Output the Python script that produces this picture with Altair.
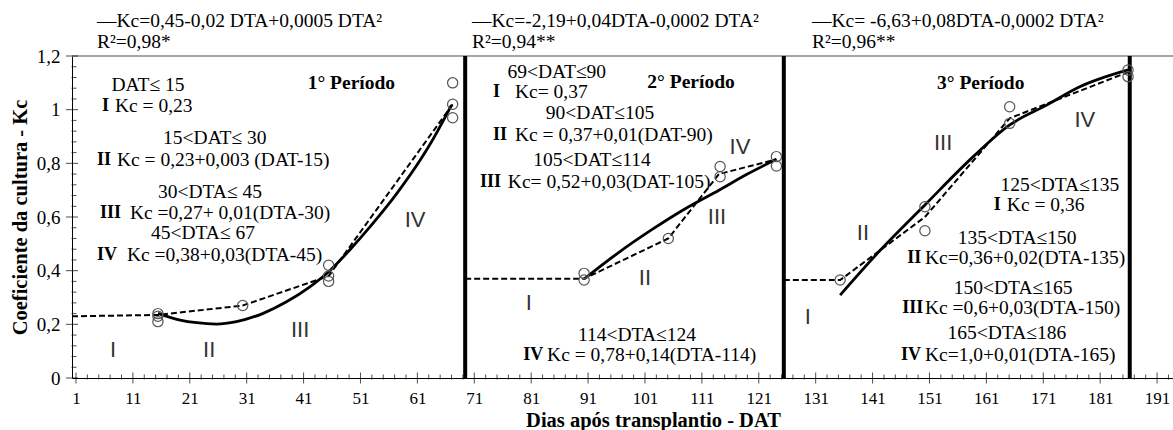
import altair as alt
import pandas as pd

# ---------------- data ----------------
# observed Kc points (open circles)
obs_day = [15.4, 15.4, 15.4, 30.3, 45.4, 45.4, 45.4, 67.2, 67.2, 67.2,
           90.3, 90.3, 105.1, 114.2, 114.2, 124.1, 124.1,
           135.3, 150.2, 150.2, 165.1, 165.1, 185.9, 185.9]
obs_kc = [0.24, 0.23, 0.21, 0.27, 0.42, 0.38, 0.36, 1.10, 1.02, 0.97,
          0.39, 0.365, 0.52, 0.788, 0.75, 0.825, 0.79,
          0.365, 0.638, 0.549, 1.011, 0.949, 1.148, 1.123]

# piecewise-linear (dashed) Kc per period
dash1_day = [0.3, 15.4, 30.3, 45.4, 67.2]
dash1_kc = [0.23, 0.235, 0.27, 0.38, 1.02]
dash2_day = [69.4, 90.3, 105.1, 114.0, 124.1]
dash2_kc = [0.37, 0.37, 0.52, 0.76, 0.815]
dash3_day = [125.4, 135.3, 150.2, 165.1, 185.9]
dash3_kc = [0.365, 0.365, 0.60, 0.968, 1.14]

# fitted quadratic (solid) curves per period
fit1_day = [15.4, 19.3, 22.2, 25.7, 29.2, 33.9, 38.0, 42.1, 45.6, 49.1, 52.7, 57.4, 61.5, 63.2, 67.0]
fit1_kc = [0.241, 0.216, 0.206, 0.201, 0.21, 0.241, 0.284, 0.34, 0.40, 0.477, 0.564, 0.688, 0.812, 0.87, 1.017]
fit2_day = [90.3, 96.0, 102.0, 108.0, 114.0, 119.0, 124.1]
fit2_kc = [0.369, 0.462, 0.55, 0.63, 0.70, 0.76, 0.815]
fit3_day = [135.3, 142.3, 150.2, 158.7, 165.1, 171.6, 177.5, 185.9]
fit3_kc = [0.309, 0.475, 0.645, 0.825, 0.943, 1.017, 1.086, 1.148]

# period boundaries (thick vertical lines)
bound_day = [69.4, 125.4, 186.2]

# axis tick labels
x_labels = list(range(1, 192, 10))
y_labels = [0, 0.2, 0.4, 0.6, 0.8, 1.0, 1.2]

# regular annotation text (serif)
note_text = ["DAT\u2264 15", "Kc = 0,23", "15<DAT\u2264 30", "Kc =  0,23+0,003 (DAT-15)",
             "30<DTA\u2264 45", "Kc =0,27+ 0,01(DTA-30)", "45<DTA\u2264 67", "Kc =0,38+0,03(DTA-45)",
             "69<DAT\u226490", "Kc= 0,37", "90<DAT\u2264105", "Kc = 0,37+0,01(DAT-90)",
             "105<DAT\u2264114", "Kc= 0,52+0,03(DAT-105)", "114<DTA\u2264124", "Kc = 0,78+0,14(DTA-114)",
             "125<DTA\u2264135", "Kc = 0,36", "135<DTA\u2264150", "Kc=0,36+0,02(DTA-135)",
             "150<DTA\u2264165", "Kc =0,6+0,03(DTA-150)", "165<DTA\u2264186", "Kc=1,0+0,01(DTA-165)"]
note_day = [13.65, 7.85, 25.4, 8.2, 24.55, 10.49, 23.32, 9.96,
            85.5, 78.15, 93.1, 78.15, 91.7, 76.9, 99.6, 83.8,
            173.9, 164.6, 166.4, 150.2, 165.7, 150.2, 164.6, 150.2]
note_kc = [1.092, 1.014, 0.894, 0.8125, 0.693, 0.615, 0.540, 0.458,
           1.1405, 1.066, 0.988, 0.906, 0.8125, 0.7305, 0.160, 0.0857,
           0.719, 0.645, 0.522, 0.447, 0.335, 0.261, 0.168, 0.0857]
note_align = ["center", "left", "center", "left", "center", "left", "center", "left",
              "center", "left", "center", "left", "center", "left", "center", "left",
              "center", "left", "center", "left", "center", "left", "center", "left"]

# bold stage labels inside the equations
bold_text = ["I", "II", "III", "IV", "I", "II", "III", "IV", "I", "II", "III", "IV"]
bold_day = [5.57, 4.69, 5.22, 4.69, 74.3, 74.3, 72.0, 79.6, 162.3, 147.1, 146.2, 146.0]
bold_kc = [1.014, 0.8125, 0.615, 0.458, 1.066, 0.906, 0.7305, 0.0857, 0.645, 0.447, 0.261, 0.0857]

# period titles
period_text = ["1\u00b0 Per\u00edodo", "2\u00b0 Per\u00edodo", "3\u00b0 Per\u00edodo"]
period_day = [49.4, 109.1, 160.0]
period_kc = [1.0995, 1.103, 1.0995]

# regression equations above the plot
eq_text = ["\u2014Kc=0,45-0,02 DTA+0,0005 DTA\u00b2", "R\u00b2=0,98*",
           "\u2014Kc=-2,19+0,04DTA-0,0002 DTA\u00b2", "R\u00b2=0,94**",
           "\u2014Kc= -6,63+0,08DTA-0,0002 DTA\u00b2", "R\u00b2=0,96**"]
eq_day = [4.69, 4.69, 70.6, 70.6, 130.35, 130.35]
eq_kc = [1.3306, 1.2525, 1.3306, 1.2525, 1.3306, 1.2525]

# stage roman numerals (sans)
stage_text = ["I", "II", "III", "IV", "I", "II", "III", "IV", "I", "II", "III", "IV"]
stage_day = [7.5, 24.4, 40.4, 60.6, 80.6, 101.0, 113.65, 117.7, 129.6, 139.3, 153.4, 178.3]
stage_kc = [0.104, 0.104, 0.179, 0.589, 0.28, 0.373, 0.60, 0.861, 0.227, 0.540, 0.876, 0.962]

# ---------------- tables ----------------
obs = pd.DataFrame({"day": obs_day, "kc": obs_kc})
dash = pd.DataFrame({
    "day": dash1_day + dash2_day + dash3_day,
    "kc": dash1_kc + dash2_kc + dash3_kc,
    "period": [1] * len(dash1_day) + [2] * len(dash2_day) + [3] * len(dash3_day),
})
fit = pd.DataFrame({
    "day": fit1_day + fit2_day + fit3_day,
    "kc": fit1_kc + fit2_kc + fit3_kc,
    "period": [1] * len(fit1_day) + [2] * len(fit2_day) + [3] * len(fit3_day),
})
bounds = pd.DataFrame({"day": bound_day})
notes = pd.DataFrame({"day": note_day, "kc": note_kc, "t": note_text, "al": note_align})
bolds = pd.DataFrame({"day": bold_day, "kc": bold_kc, "t": bold_text})
periods = pd.DataFrame({"day": period_day, "kc": period_kc, "t": period_text})
eqs = pd.DataFrame({"day": eq_day, "kc": eq_kc, "t": eq_text})
stages = pd.DataFrame({"day": stage_day, "kc": stage_kc, "t": stage_text})
xmaj = pd.DataFrame({"day": x_labels, "kc": [0] * len(x_labels)})
xmin_days = [d for d in range(3, 194, 2) if (d - 1) % 10 != 0]
xmin = pd.DataFrame({"day": xmin_days, "kc": [0] * len(xmin_days)})
ymaj = pd.DataFrame({"kc": y_labels, "day": [0.3] * len(y_labels)})
ymin_vals = [round(i * 0.04, 2) for i in range(31) if i % 5 != 0]
ymin = pd.DataFrame({"kc": ymin_vals, "day": [0.3] * len(ymin_vals)})
top = pd.DataFrame({"kc": [1.2]})

SERIF = "Liberation Serif"
xs = alt.Scale(domain=[0.3, 193.8], nice=False, zero=False)
ys = alt.Scale(domain=[0, 1.2], nice=False, zero=False)

x_axis = alt.Axis(values=x_labels, format="d", ticks=False, grid=False, domain=True,
                  domainColor="black", domainWidth=1, labelFont=SERIF, labelFontSize=17,
                  labelColor="black", labelPadding=20, labelBaseline="middle",
                  labelFlush=False, labelOverlap=False,
                  title="Dias após transplantio - DAT", titleFont=SERIF, titleFontSize=20.5,
                  titleFontWeight="bold", titleColor="black", titleX=581, titleY=42,
                  titleBaseline="middle", titleAlign="center")
y_axis = alt.Axis(values=y_labels, labelExpr="replace(format(datum.value, '.1~f'), '.', ',')",
                  ticks=False, grid=False, domain=True, domainColor="black", domainWidth=1,
                  labelFont=SERIF, labelFontSize=19, labelColor="black", labelPadding=12,
                  title="Coeficiente da cultura - Kc", titleFont=SERIF, titleFontSize=20.5,
                  titleFontWeight="bold", titleColor="black", titleAngle=270,
                  titleX=-52, titleY=161, titleAlign="center", titleBaseline="middle")


def X():
    return alt.X("day:Q", scale=xs, axis=x_axis)


def Y():
    return alt.Y("kc:Q", scale=ys, axis=y_axis)


ANN = 19.5

dash_layer = alt.Chart(dash).mark_line(color="black", strokeWidth=2, strokeDash=[6, 3]).encode(
    x=X(), y=Y(), detail="period:N", order="day:Q")

top_border = alt.Chart(top).mark_rule(color="#888888", strokeWidth=1.5).encode(y=Y())

bound_layer = alt.Chart(bounds).mark_rule(color="black", strokeWidth=4).encode(
    x=X(), y=alt.datum(0), y2=alt.datum(1.2))

fit_layer = alt.Chart(fit).mark_line(color="black", strokeWidth=2.8, interpolate="monotone").encode(
    x=X(), y=Y(), detail="period:N", order="day:Q")

obs_layer = alt.Chart(obs).mark_point(shape="circle", size=105, filled=False, color="#555555",
                                      strokeWidth=1.2, opacity=1).encode(x=X(), y=Y())

xmaj_layer = alt.Chart(xmaj).mark_tick(orient="vertical", size=11, thickness=1, color="black").encode(
    x=X(), y=Y())
xmin_layer = alt.Chart(xmin).mark_tick(orient="vertical", size=5, thickness=1, color="black", yOffset=-1).encode(
    x=X(), y=Y())
ymaj_layer = alt.Chart(ymaj).mark_tick(orient="horizontal", size=12, thickness=1, color="black").encode(
    x=X(), y=Y())
ymin_layer = alt.Chart(ymin).mark_tick(orient="horizontal", size=5, thickness=1, color="black", xOffset=2).encode(
    x=X(), y=Y())

note_left = alt.Chart(notes).transform_filter("datum.al == 'left'").mark_text(
    font=SERIF, fontSize=ANN, align="left", baseline="middle", color="black").encode(
    x=X(), y=Y(), text="t:N")
note_center = alt.Chart(notes).transform_filter("datum.al == 'center'").mark_text(
    font=SERIF, fontSize=ANN, align="center", baseline="middle", color="black").encode(
    x=X(), y=Y(), text="t:N")
bold_layer = alt.Chart(bolds).mark_text(font=SERIF, fontSize=18, fontWeight="bold", align="left",
                                        baseline="middle", color="black").encode(x=X(), y=Y(), text="t:N")
period_layer = alt.Chart(periods).mark_text(font=SERIF, fontSize=ANN, fontWeight="bold", align="center",
                                            baseline="middle", color="black").encode(x=X(), y=Y(), text="t:N")
eq_layer = alt.Chart(eqs).mark_text(font=SERIF, fontSize=19.5, align="left", baseline="middle",
                                    color="black").encode(x=X(), y=Y(), text="t:N")
stage_layer = alt.Chart(stages).mark_text(font="Liberation Sans", fontSize=22, align="center",
                                          baseline="middle", color="#333333").encode(x=X(), y=Y(), text="t:N")

chart = alt.layer(
    dash_layer, top_border, bound_layer, fit_layer, obs_layer,
    xmaj_layer, xmin_layer, ymaj_layer, ymin_layer,
    note_left, note_center, bold_layer, period_layer, eq_layer, stage_layer,
).properties(
    width=1101, height=322,
    padding={"left": 72, "top": 56, "right": 0, "bottom": 52},
    autosize=alt.AutoSizeParams(type="none"),
    background="white",
).configure_view(stroke=None).configure_axis(titleFont=SERIF, labelFont=SERIF)

chart.save("out.html", embed_options={"renderer": "svg", "actions": False})
